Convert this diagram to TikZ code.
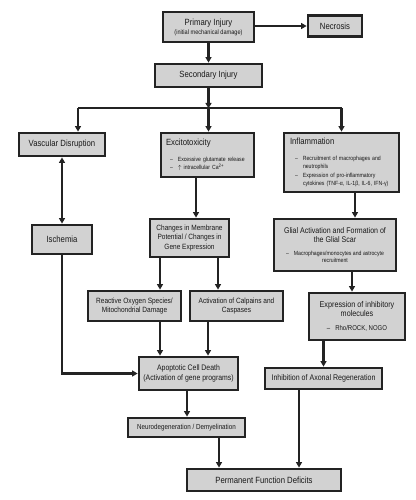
\documentclass[tikz,border=0pt]{standalone}
\usepackage{fontspec}
\setmainfont{Liberation Sans}[FakeStretch=0.86]
\usetikzlibrary{arrows.meta}
\definecolor{boxfill}{RGB}{210,210,210}
\definecolor{boxline}{RGB}{35,35,35}
\tikzset{
  box/.style={rectangle,draw=boxline,fill=boxfill,line width=2.8pt,
              text=black!90,inner sep=2pt,align=center,
              font=\fontsize{9}{11}\selectfont},
  listbox/.style={box,align=left,text width=#1,font=\bulletsize},
  arr/.style={-{Triangle[length=5.5pt,width=6pt]},line width=2.2pt,draw=boxline},
  bar/.style={line width=2.2pt,draw=boxline},
}
\newcommand{\bulletsize}{\fontsize{6}{8.2}\selectfont}
\newcommand{\titlesize}{\fontsize{9}{8.2}\selectfont}

\begin{document}
\begin{tikzpicture}[x=1pt,y=-1pt]
  \useasboundingbox (0,0) rectangle (415,500);

  \node[box,minimum width=91pt,minimum height=30pt] (primary) at (208.5,27)
        {Primary Injury\\[-2pt]{\fontsize{6.5}{7}\selectfont(initial mechanical damage)}};
  \node[box,minimum width=54pt,minimum height=21pt] (necrosis) at (335,26) {Necrosis};
  \node[box,minimum width=107pt,minimum height=23pt] (secondary) at (208.5,75.5) {Secondary Injury};

  \node[box,minimum width=86pt,minimum height=23pt] (vascular) at (62,144.5) {Vascular Disruption};
  \node[listbox=83pt,minimum width=93pt,minimum height=44pt] (excito) at (207.5,155)
        {{\titlesize Excitotoxicity}\\[7.5pt]
         \hspace*{4pt}–\hspace{5pt}Excessive glutamate release\\
         \hspace*{4pt}–\hspace{5pt}$\uparrow$ intracellular Ca\textsuperscript{2+}};
  \node[listbox=103pt,minimum width=115pt,minimum height=59pt] (inflam) at (341.5,162.5)
        {{\titlesize Inflammation}\\[7.5pt]
         \hspace*{5pt}–\hspace{5pt}Recruitment of macrophages and\\
         \hspace*{13pt}neutrophils\\
         \hspace*{5pt}–\hspace{5pt}Expression of pro-inflammatory\\
         \hspace*{13pt}cytokines (TNF-α, IL-1β, IL-6, IFN-γ)};

  \node[box,minimum width=60pt,minimum height=29pt] (ischemia) at (62,239.5) {Ischemia};
  \node[box,minimum width=79pt,minimum height=38pt,font=\fontsize{7.6}{9.7}\selectfont] (membrane) at (189.5,238)
        {Changes in Membrane\\Potential / Changes in\\Gene Expression};
  \node[box,minimum width=122pt,minimum height=52pt,font=\fontsize{8.2}{9.7}\selectfont] (glial) at (335,245)
        {Glial Activation and Formation of\\the Glial Scar\\[3pt]
         {\bulletsize –\hspace{5pt}Macrophages/monocytes and astrocyte}\\[-2.5pt]
         {\bulletsize recruitment}};

  \node[box,minimum width=93pt,minimum height=30pt,font=\fontsize{7.6}{9.7}\selectfont] (ros) at (134.5,306)
        {Reactive Oxygen Species/\\Mitochondrial Damage};
  \node[box,minimum width=93pt,minimum height=30pt,font=\fontsize{7.6}{9.7}\selectfont] (calpain) at (236.5,306)
        {Activation of Calpains and\\Caspases};
  \node[box,minimum width=96pt,minimum height=47pt,font=\fontsize{8.4}{8.6}\selectfont] (inhib) at (357,316.5)
        {Expression of inhibitory\\molecules\\[6pt]
         {\fontsize{7}{8}\selectfont –\hspace{5pt}Rho/ROCK, NOGO}};

  \node[box,minimum width=99pt,minimum height=33pt,font=\fontsize{8}{10}\selectfont] (apoptosis) at (188.5,373.5)
        {Apoptotic Cell Death\\(Activation of gene programs)};
  \node[box,minimum width=117pt,minimum height=21pt,font=\fontsize{8.2}{9}\selectfont] (axonal) at (323.5,378.5)
        {Inhibition of Axonal Regeneration};
  \node[box,minimum width=117pt,minimum height=19pt,font=\fontsize{7.3}{8}\selectfont] (neuro) at (186.5,427.5)
        {Neurodegeneration / Demyelination};
  \node[box,minimum width=154pt,minimum height=22pt] (deficit) at (264,480)
        {Permanent Function Deficits};

  % top part
  \draw[arr] (primary.south) -- (secondary.north);
  \draw[arr] (primary.east |- necrosis.west) -- (necrosis.west);
  \draw[arr] (secondary.south) -- ++(0,20) coordinate (split);
  \draw[bar] ([xshift=16pt]vascular.north |- split) -- (inflam.north |- split);
  \draw[arr] ([xshift=16pt]vascular.north |- split) -- ([xshift=16pt]vascular.north);
  \draw[arr] (split) -- (split |- excito.north);
  \draw[arr] (inflam.north |- split) -- (inflam.north);

  % left column
  \draw[arr,{Triangle[length=5.5pt,width=6pt]}-{Triangle[length=5.5pt,width=6pt]}]
    (vascular.south) -- (ischemia.north);
  \draw[arr] (ischemia.south) |- (apoptosis.west);

  % vertical arrows between boxes
  \foreach \from/\to/\dx in {excito/membrane/-11.5, inflam/glial/13.5,
      membrane/ros/-29.5, membrane/calpain/28.5, glial/inhib/17,
      ros/apoptosis/25.5, calpain/apoptosis/-28.5, apoptosis/neuro/-1.5,
      neuro/deficit/32.5, axonal/deficit/-24.5}{
    \draw[arr] ([xshift=\dx pt]\from.south) -- ([xshift=\dx pt]\from.south |- \to.north);
  }
  \draw[arr] (axonal.north |- inhib.south) -- (axonal.north);

\end{tikzpicture}
\end{document}
